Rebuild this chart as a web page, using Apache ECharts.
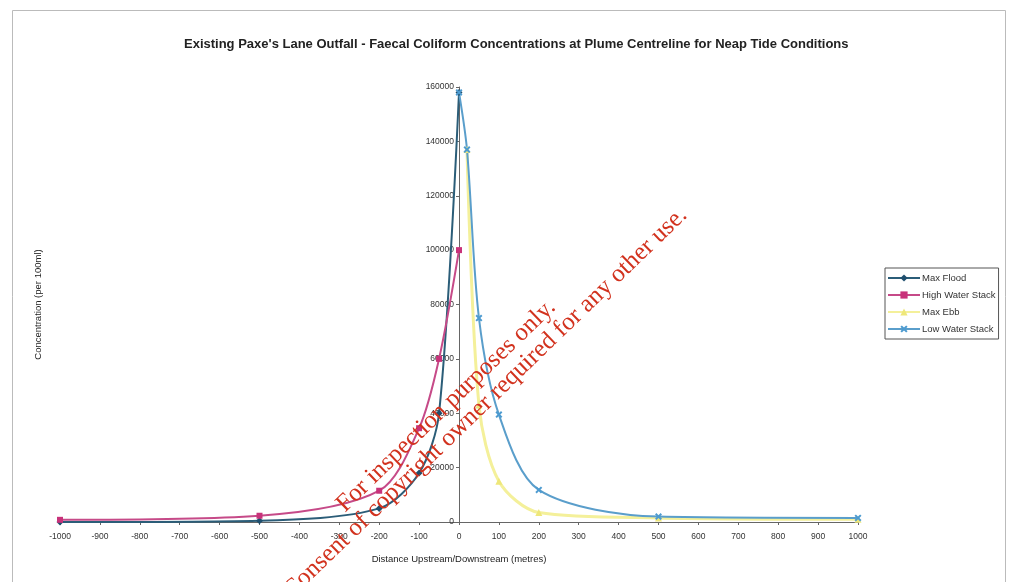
<!DOCTYPE html>
<html>
<head>
<meta charset="utf-8">
<script src="https://cdn.jsdelivr.net/npm/echarts@6/dist/echarts.min.js"></script>
<style>
html,body{margin:0;padding:0;background:#fff;}
#main{width:1010px;height:582px;}
</style>
</head>
<body>
<div id="main"></div>
<script>
// ---- data ----
const titleText = "Existing Paxe's Lane Outfall - Faecal Coliform Concentrations at Plume Centreline for Neap Tide Conditions";
const seriesNames = ["Max Flood", "High Water Stack", "Max Ebb", "Low Water Stack"];

const maxFloodX = [-1000, -500, -200, -100, -50, 0];
const maxFloodY = [0, 500, 5000, 18000, 40000, 158000];

const highWaterX = [-1000, -500, -200, -100, -50, 0];
const highWaterY = [800, 2300, 11500, 34500, 60000, 100000];

const maxEbbX = [20, 50, 100, 200, 500, 1000];
const maxEbbY = [137000, 43000, 15000, 3500, 1500, 1000];

const lowWaterX = [0, 20, 50, 100, 200, 500, 1000];
const lowWaterY = [158000, 137000, 75000, 39500, 11800, 2000, 1500];

const xName = "Distance Upstream/Downstream (metres)";
const yName = "Concentration (per 100ml)";
const watermark1 = "For inspection purposes only.";
const watermark2 = "Consent of copyright owner required for any other use.";

function pairs(xs, ys) { return xs.map((x, i) => [x, ys[i]]); }

const FONT = "'Liberation Sans', Arial, sans-serif";
const xMark = 'path://M2,0 L5,3 L8,0 L10,2 L7,5 L10,8 L8,10 L5,7 L2,10 L0,8 L3,5 L0,2 Z';
const WM_FONT = "25px 'Liberation Serif', 'Times New Roman', serif";
const ROT = 44 * Math.PI / 180;

const GRID_LEFT = 60, GRID_RIGHT = 152;
const plotW = 1010 - GRID_LEFT - GRID_RIGHT;
// y axis drawn where x = 0 (middle of the symmetric x range)
const yAxisOffset = -plotW * (0 - (-1000)) / 2000;

const chart = echarts.init(document.getElementById('main'), null, {renderer: 'canvas'});
chart.setOption({
  backgroundColor: '#ffffff',
  animation: false,
  title: {
    text: titleText,
    left: 179, top: 33,
    textStyle: {fontFamily: FONT, fontSize: 13, fontWeight: 'bold', color: '#222'}
  },
  legend: {
    orient: 'vertical',
    left: 885, top: 268,
    padding: [5, 3, 5, 2],
    itemGap: 7,
    itemWidth: 32, itemHeight: 9,
    borderColor: '#555', borderWidth: 1,
    textStyle: {fontFamily: FONT, fontSize: 9.5, color: '#333', padding: [0, 0, 0, -3]},
    data: seriesNames
  },
  grid: {left: GRID_LEFT, right: GRID_RIGHT, top: 87, bottom: 60, containLabel: false, outerBoundsMode: 'none'},
  xAxis: {
    type: 'value', min: -1000, max: 1000, interval: 100,
    name: xName, nameLocation: 'middle', nameGap: 32,
    nameTextStyle: {fontFamily: FONT, fontSize: 9.5, color: '#222'},
    axisLine: {onZero: false, lineStyle: {color: '#666', width: 1}},
    axisTick: {show: true, length: 3, lineStyle: {color: '#666'}},
    axisLabel: {fontFamily: FONT, fontSize: 8.5, color: '#333', margin: 10,
                formatter: v => String(v)},
    splitLine: {show: false}
  },
  yAxis: {
    type: 'value', min: 0, max: 160000, interval: 20000,
    position: 'left', offset: yAxisOffset,
    name: yName, nameLocation: 'middle', nameGap: 416,
    nameTextStyle: {fontFamily: FONT, fontSize: 9.5, color: '#222'},
    axisLine: {show: true, onZero: false, lineStyle: {color: '#666', width: 1}},
    axisTick: {show: true, length: 3, lineStyle: {color: '#666'}},
    axisLabel: {fontFamily: FONT, fontSize: 8.5, color: '#333', margin: 5,
                formatter: v => String(v)},
    splitLine: {show: false}
  },
  series: [
    {
      name: seriesNames[0], type: 'line', smooth: 0.3,
      data: pairs(maxFloodX, maxFloodY),
      symbol: 'diamond', symbolSize: 7,
      lineStyle: {color: '#2b5d78', width: 2},
      itemStyle: {color: '#1f4f6e'}
    },
    {
      name: seriesNames[1], type: 'line', smooth: 0.3,
      data: pairs(highWaterX, highWaterY),
      symbol: 'rect', symbolSize: 6,
      lineStyle: {color: '#c64a88', width: 2},
      itemStyle: {color: '#c8327a'}
    },
    {
      name: seriesNames[2], type: 'line', smooth: 0.3,
      data: pairs(maxEbbX, maxEbbY),
      symbol: 'triangle', symbolSize: 7,
      lineStyle: {color: '#f4f09a', width: 3},
      itemStyle: {color: '#eee77a'}
    },
    {
      name: seriesNames[3], type: 'line', smooth: 0.3,
      data: pairs(lowWaterX, lowWaterY),
      symbol: xMark, symbolSize: 7,
      lineStyle: {color: '#5a9ecb', width: 2},
      itemStyle: {color: '#4d9bd0'}
    }
  ],
  graphic: [
    {
      type: 'rect', silent: true, z: -1,
      shape: {x: 12.5, y: 10.5, width: 993, height: 580},
      style: {fill: 'none', stroke: '#bbb', lineWidth: 1}
    },
    {
      type: 'text', silent: true, z: 100,
      x: 349, y: 517, rotation: ROT,
      style: {text: watermark1, fill: '#d2321e', font: WM_FONT,
              textAlign: 'left', textVerticalAlign: 'bottom'}
    },
    {
      type: 'text', silent: true, z: 100,
      x: 296, y: 603, rotation: ROT,
      style: {text: watermark2, fill: '#d2321e', font: WM_FONT,
              textAlign: 'left', textVerticalAlign: 'bottom'}
    }
  ]
});
</script>
</body>
</html>
